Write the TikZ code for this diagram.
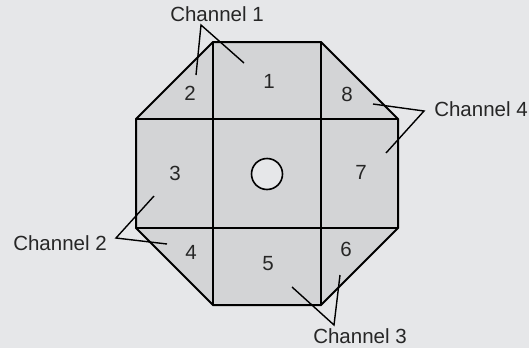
\documentclass[tikz,border=0pt]{standalone}
\usepackage{fontspec}
\setmainfont{Liberation Sans}
\definecolor{bg}{HTML}{E6E7E9}
\definecolor{cell}{HTML}{D3D4D6}
\begin{document}
\begin{tikzpicture}[x=0.5pt,y=-0.5pt,
  lbl/.style={font=\fontsize{10.25}{12}\selectfont, inner sep=0pt, text=black!85},
  edge/.style={line width=1pt, line join=miter},
  leader/.style={line width=0.7pt}]
\fill[bg] (0,0) rectangle (529,348);
\useasboundingbox (0,0) rectangle (529,348);
% octagon
\coordinate (p1) at (213,42);
\coordinate (p2) at (321,42);
\coordinate (p3) at (398,119);
\coordinate (p4) at (398,228);
\coordinate (p5) at (321,305);
\coordinate (p6) at (213,305);
\coordinate (p7) at (136,228);
\coordinate (p8) at (136,119);
\filldraw[fill=cell, draw=black, edge] (p1) -- (p2) -- (p3) -- (p4) -- (p5) -- (p6) -- (p7) -- (p8) -- cycle;
\draw[edge] (p1) -- (p6);
\draw[edge] (p2) -- (p5);
\draw[edge] (p8) -- (p3);
\draw[edge] (p7) -- (p4);
% hole
\node[circle, draw=black, fill=bg, line width=0.8pt, minimum size=15.5pt, inner sep=0pt] (hole) at (267,174) {};
% cell numbers
\node[lbl] (n1) at (269,81) {1};
\node[lbl] (n2) at (190,93) {2};
\node[lbl] (n3) at (175,173) {3};
\node[lbl] (n4) at (191,252) {4};
\node[lbl] (n5) at (268,264) {5};
\node[lbl] (n6) at (346,249) {6};
\node[lbl] (n7) at (361,172) {7};
\node[lbl] (n8) at (347,94) {8};
% channel labels
\node[lbl] (c1) at (217,14) {Channel 1};
\node[lbl] (c2) at (60,243) {Channel 2};
\node[lbl] (c3) at (360,336) {Channel 3};
\node[lbl] (c4) at (481,109) {Channel 4};
% leaders
\coordinate (a1) at (201,25);
\coordinate (e1a) at (196,75);
\coordinate (e1b) at (244,63);
\draw[leader] (e1a) -- (a1) -- (e1b);
\coordinate (a4) at (424,111);
\coordinate (e4a) at (373,104);
\coordinate (e4b) at (386,153);
\draw[leader] (e4a) -- (a4) -- (e4b);
\coordinate (a2) at (116,238);
\coordinate (e2a) at (154,196);
\coordinate (e2b) at (167,244);
\draw[leader] (e2a) -- (a2) -- (e2b);
\coordinate (a3) at (334,325);
\coordinate (e3a) at (292,287);
\coordinate (e3b) at (340,275);
\draw[leader] (e3a) -- (a3) -- (e3b);
\end{tikzpicture}
\end{document}
